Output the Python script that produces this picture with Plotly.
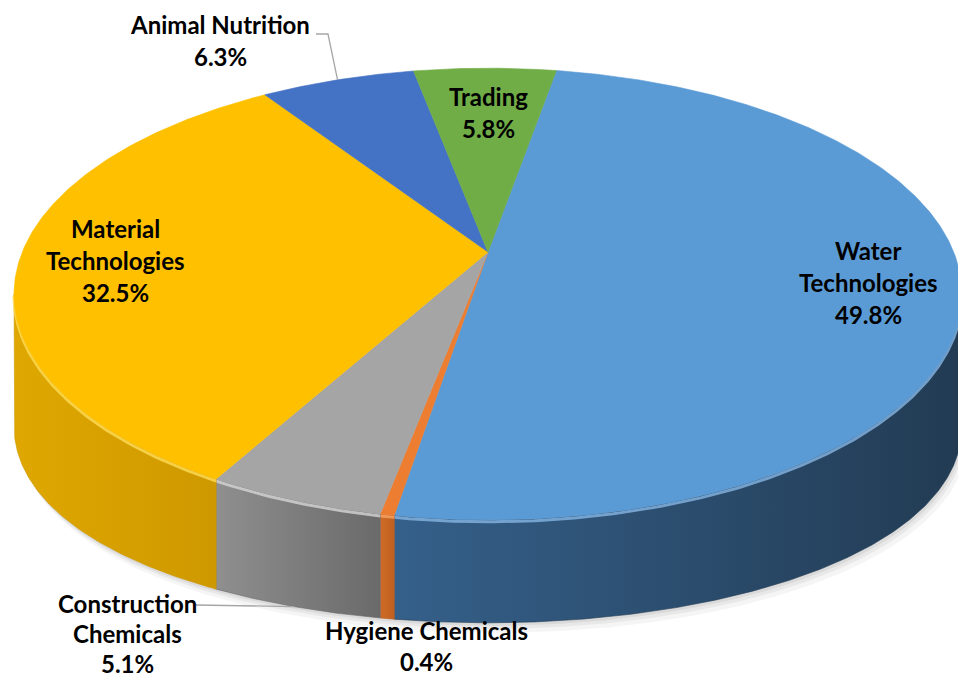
import numpy as np
import plotly.graph_objects as go

# ---------------- data ----------------
categories = ["Water Technologies", "Hygiene Chemicals", "Construction Chemicals",
              "Material Technologies", "Animal Nutrition", "Trading"]
values = [49.8, 0.4, 5.1, 32.5, 6.3, 5.8]
label_lines = [["Water", "Technologies"], ["Hygiene Chemicals"], ["Construction", "Chemicals"],
               ["Material", "Technologies"], ["Animal Nutrition"], ["Trading"]]

# ---------------- styles ----------------
top_colors = ["#5B9BD5", "#ED7D31", "#A5A5A5", "#FFC000", "#4472C4", "#70AD47"]
side_colors = [("#35608A", "#223B53"), ("#CF6B27", "#C0601F"), ("#8F8F8F", "#6A6A6A"),
               ("#DFA700", "#CE9900"), ("#2F5597", "#2F5597"), ("#548235", "#548235")]
rim_colors = ["#86B6E4", "#F6A565", "#D6D6D6", "#FFDC55", "#6C92D6", "#92C46E"]

# label placement (pixel space): x centre, y of first line, line spacing per label
label_pos = [(868, 250), (426, 630), (127, 603), (115, 228), (220, 24), (488, 96)]
label_gap = [32, 31, 30, 32, 32, 32]
leader_anchor = {4: [(316, 34), (328, 34)], 2: [(196, 605)]}

# ---------------- geometry (pixel space of the 958x680 canvas) ----------------
W, H = 958, 680
CX, CY, RX, RY, P = 488, 252, 465.7, 218.0, 0.186
START = 10.0  # first slice angle, degrees clockwise from 12 o'clock


def proj(theta_deg, r=1.0):
    t = np.radians(theta_deg)
    u, v = r * np.sin(t), r * np.cos(t)
    w = 1 + P * v
    return CX + RX * u / w, CY - RY * v / w


def depth(theta_deg):
    u = np.sin(np.radians(theta_deg))
    return 103 + 30 * u ** 2


total = sum(values)
bounds = []
acc = 0.0
for v in values:
    a0 = START + 360 * acc / total
    acc += v
    a1 = START + 360 * acc / total
    bounds.append((a0, a1))

theta_R = np.degrees(np.arccos(-P))
theta_L = 360 - theta_R

fig = go.Figure()

# soft shadow under the front wall
ts = np.linspace(theta_R, theta_L, 200)
bx, by = proj(ts)
by = by + depth(ts)
for k, alpha in [(10, 0.04), (6, 0.05), (3, 0.06)]:
    sx = np.concatenate([bx + k * 0.6, bx[::-1]])
    sy = np.concatenate([by + k, by[::-1] - 20])
    fig.add_trace(go.Scatter(x=sx, y=sy, mode="lines", fill="toself",
                             fillcolor=f"rgba(0,0,0,{alpha})", line=dict(width=0),
                             hoverinfo="skip"))

# side walls
for i, (a0, a1) in enumerate(bounds):
    lo, hi = max(a0, theta_R), min(a1, theta_L)
    if lo >= hi:
        continue
    t = np.linspace(lo, hi, max(3, int((hi - lo) * 2)))
    tx, ty = proj(t)
    bty = ty + depth(t)
    xs = np.concatenate([tx, tx[::-1], tx[:1]])
    ys = np.concatenate([ty, bty[::-1], ty[:1]])
    c0, c1 = side_colors[i]
    fig.add_trace(go.Scatter(x=xs, y=ys, mode="lines", fill="toself",
                             fillgradient=dict(type="horizontal",
                                               colorscale=[[0, c0], [1, c1]]),
                             line=dict(width=0.6, color=c1), hoverinfo="skip"))
    # bevel highlight along the rim
    fig.add_trace(go.Scatter(x=tx, y=ty + 2, mode="lines",
                             line=dict(width=3, color=rim_colors[i]),
                             opacity=0.8, hoverinfo="skip"))

# top faces
for i, (a0, a1) in enumerate(bounds):
    t = np.linspace(a0, a1, max(3, int((a1 - a0) * 2)))
    rx, ry = proj(t)
    xs = np.concatenate([[CX], rx, [CX]])
    ys = np.concatenate([[CY], ry, [CY]])
    fig.add_trace(go.Scatter(x=xs, y=ys, mode="lines", fill="toself",
                             fillcolor=top_colors[i],
                             line=dict(width=0.6, color=top_colors[i]),
                             name=categories[i], hoverinfo="name"))

# leader lines
for i, pts in leader_anchor.items():
    a0, a1 = bounds[i]
    mid = (a0 + a1) / 2
    mx, my = proj(mid)
    if i == 2:
        my = my + depth(mid)
    xs = [p[0] for p in pts] + [mx]
    ys = [p[1] for p in pts] + [my]
    fig.add_trace(go.Scatter(x=xs, y=ys, mode="lines",
                             line=dict(width=1.3, color="#A6A6A6"), hoverinfo="skip"))

# labels (one annotation per line for Excel-like line spacing)
for i, lines in enumerate(label_lines):
    x, y0 = label_pos[i]
    for k, line in enumerate(lines + [f"{values[i]:.1f}%"]):
        fig.add_annotation(x=x, y=y0 + k * label_gap[i], text=f"<b>{line}</b>",
                           showarrow=False, xanchor="center", yanchor="middle",
                           font=dict(family="Lato, 'Open Sans', sans-serif", size=24,
                                     color="#000000"))

fig.update_layout(
    width=W, height=H, margin=dict(l=0, r=0, t=0, b=0),
    paper_bgcolor="white", plot_bgcolor="white", showlegend=False,
    xaxis=dict(range=[0, W], visible=False, fixedrange=True),
    yaxis=dict(range=[H, 0], visible=False, fixedrange=True),
)

fig.write_html("out.html", config={"displayModeBar": False},
               post_script="document.body.style.margin='0';document.body.style.overflow='hidden';")
